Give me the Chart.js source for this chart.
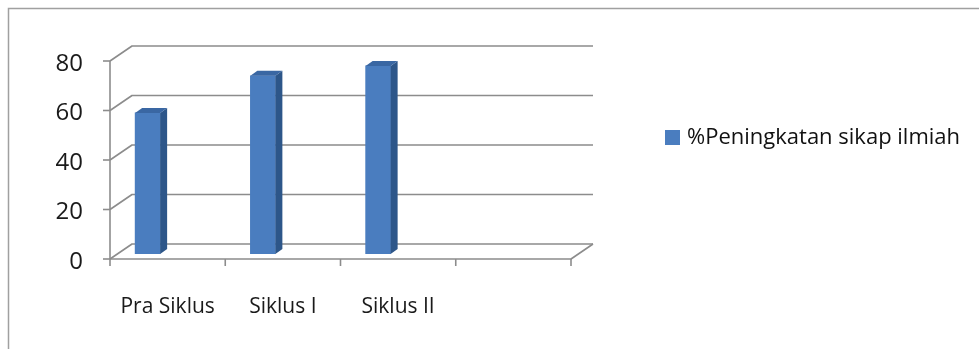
<!DOCTYPE html>
<html>
<head>
<meta charset="utf-8">
<script src="https://cdn.jsdelivr.net/npm/chart.js@4.4.0/dist/chart.umd.min.js"></script>
<style>
  html, body { margin: 0; padding: 0; background: #fff; }
</style>
</head>
<body>
<canvas id="barChart" width="979" height="349"></canvas>
<script>
const categories = ["Pra Siklus", "Siklus I", "Siklus II", ""];
const sikapIlmiah = [57, 72, 76, null];
const yTicks = [0, 20, 40, 60, 80];
const seriesLabel = "%Peningkatan sikap ilmiah";

// depth of the 3D box (back wall offset) and of a single column
const BOX_DX = 22, BOX_DY = -15;
const COL_DX = 7, COL_DY = -5;
// columns sit left of the category centre
const COL_SHIFT = -27;

const FONT = "'Open Sans', 'Noto Sans', sans-serif";
const GRID = "#8c8c8c";
const BLUE = "#4a7dbf";

const box3d = {
  id: "box3d",
  beforeDraw(chart) {
    const ctx = chart.ctx;
    ctx.save();
    ctx.fillStyle = "#fff";
    ctx.fillRect(0, 0, chart.width, chart.height);
    // outer frame (left and top only)
    ctx.strokeStyle = "#a0a0a0";
    ctx.lineWidth = 1.5;
    ctx.beginPath();
    ctx.moveTo(8.5, chart.height);
    ctx.lineTo(8.5, 8.5);
    ctx.lineTo(chart.width, 8.5);
    ctx.stroke();
    ctx.restore();
  },
  beforeDatasetsDraw(chart) {
    const { ctx, chartArea: a, scales: { x, y } } = chart;
    ctx.save();
    ctx.strokeStyle = GRID;
    ctx.lineWidth = 1.6;
    ctx.lineJoin = "round";
    yTicks.forEach(v => {
      const py = y.getPixelForValue(v);
      ctx.beginPath();
      ctx.moveTo(a.left, py);
      ctx.lineTo(a.left + BOX_DX, py + BOX_DY);
      ctx.lineTo(a.right + BOX_DX, py + BOX_DY);
      ctx.stroke();
      ctx.beginPath();
      ctx.moveTo(a.left - 7, py);
      ctx.lineTo(a.left, py);
      ctx.stroke();
    });
    // value axis
    ctx.beginPath();
    ctx.moveTo(a.left, y.getPixelForValue(yTicks[yTicks.length - 1]));
    ctx.lineTo(a.left, a.bottom);
    ctx.stroke();
    // floor front and right edge
    ctx.beginPath();
    ctx.moveTo(a.left, a.bottom);
    ctx.lineTo(a.right, a.bottom);
    ctx.lineTo(a.right + BOX_DX, a.bottom + BOX_DY);
    ctx.stroke();
    // category boundaries
    for (let i = 0; i <= categories.length; i++) {
      const px = x.getPixelForValue(i - 0.5);
      ctx.beginPath();
      ctx.moveTo(px, a.bottom);
      ctx.lineTo(px, a.bottom + 7);
      ctx.stroke();
    }
    ctx.restore();
  },
  beforeDatasetDraw(chart) {
    chart.ctx.save();
    chart.ctx.translate(COL_SHIFT + COL_DX, COL_DY);
  },
  afterDatasetDraw(chart, args) {
    const ctx = chart.ctx;
    const values = chart.data.datasets[args.index].data;
    args.meta.data.forEach((bar, i) => {
      if (values[i] == null) return;
      const { x, y, base, width } = bar.getProps(["x", "y", "base", "width"], true);
      const l = x - width / 2, r = x + width / 2;
      // side
      ctx.fillStyle = "#2d5689";
      ctx.beginPath();
      ctx.moveTo(r, y);
      ctx.lineTo(r + COL_DX, y + COL_DY);
      ctx.lineTo(r + COL_DX, base + COL_DY);
      ctx.lineTo(r, base);
      ctx.closePath();
      ctx.fill();
      // top
      ctx.fillStyle = "#3a67a3";
      ctx.beginPath();
      ctx.moveTo(l, y);
      ctx.lineTo(r, y);
      ctx.lineTo(r + COL_DX, y + COL_DY);
      ctx.lineTo(l + COL_DX, y + COL_DY);
      ctx.closePath();
      ctx.fill();
    });
    ctx.restore();
  },
  afterDraw(chart) {
    // legend
    const ctx = chart.ctx;
    const ds = chart.data.datasets[0];
    ctx.save();
    ctx.fillStyle = ds.backgroundColor;
    ctx.fillRect(665, 130, 15, 15);
    ctx.fillStyle = "#111";
    ctx.font = "22px " + FONT;
    ctx.textBaseline = "alphabetic";
    ctx.fillText(ds.label, 687, 144);
    ctx.restore();
  }
};

new Chart(document.getElementById("barChart"), {
  type: "bar",
  data: {
    labels: categories,
    datasets: [{
      label: seriesLabel,
      data: sikapIlmiah,
      backgroundColor: BLUE,
      barThickness: 25
    }]
  },
  options: {
    responsive: false,
    animation: false,
    layout: { padding: { left: 0, top: 61, right: 408, bottom: 30 } },
    plugins: { legend: { display: false }, tooltip: { enabled: false } },
    scales: {
      x: {
        grid: { display: false, drawTicks: false },
        border: { display: false },
        ticks: { color: "#1a1a1a", font: { family: FONT, size: 21 }, padding: 35, maxRotation: 0, autoSkip: false },
        afterFit(scale) { scale.height = 60; }
      },
      y: {
        min: 0,
        max: 80,
        grid: { display: false, drawTicks: false },
        border: { display: false },
        ticks: { stepSize: 20, color: "#1a1a1a", font: { family: FONT, size: 24 }, padding: 27, labelOffset: 3 },
        afterFit(scale) { scale.width = 110; }
      }
    }
  },
  plugins: [box3d]
});
</script>
</body>
</html>
